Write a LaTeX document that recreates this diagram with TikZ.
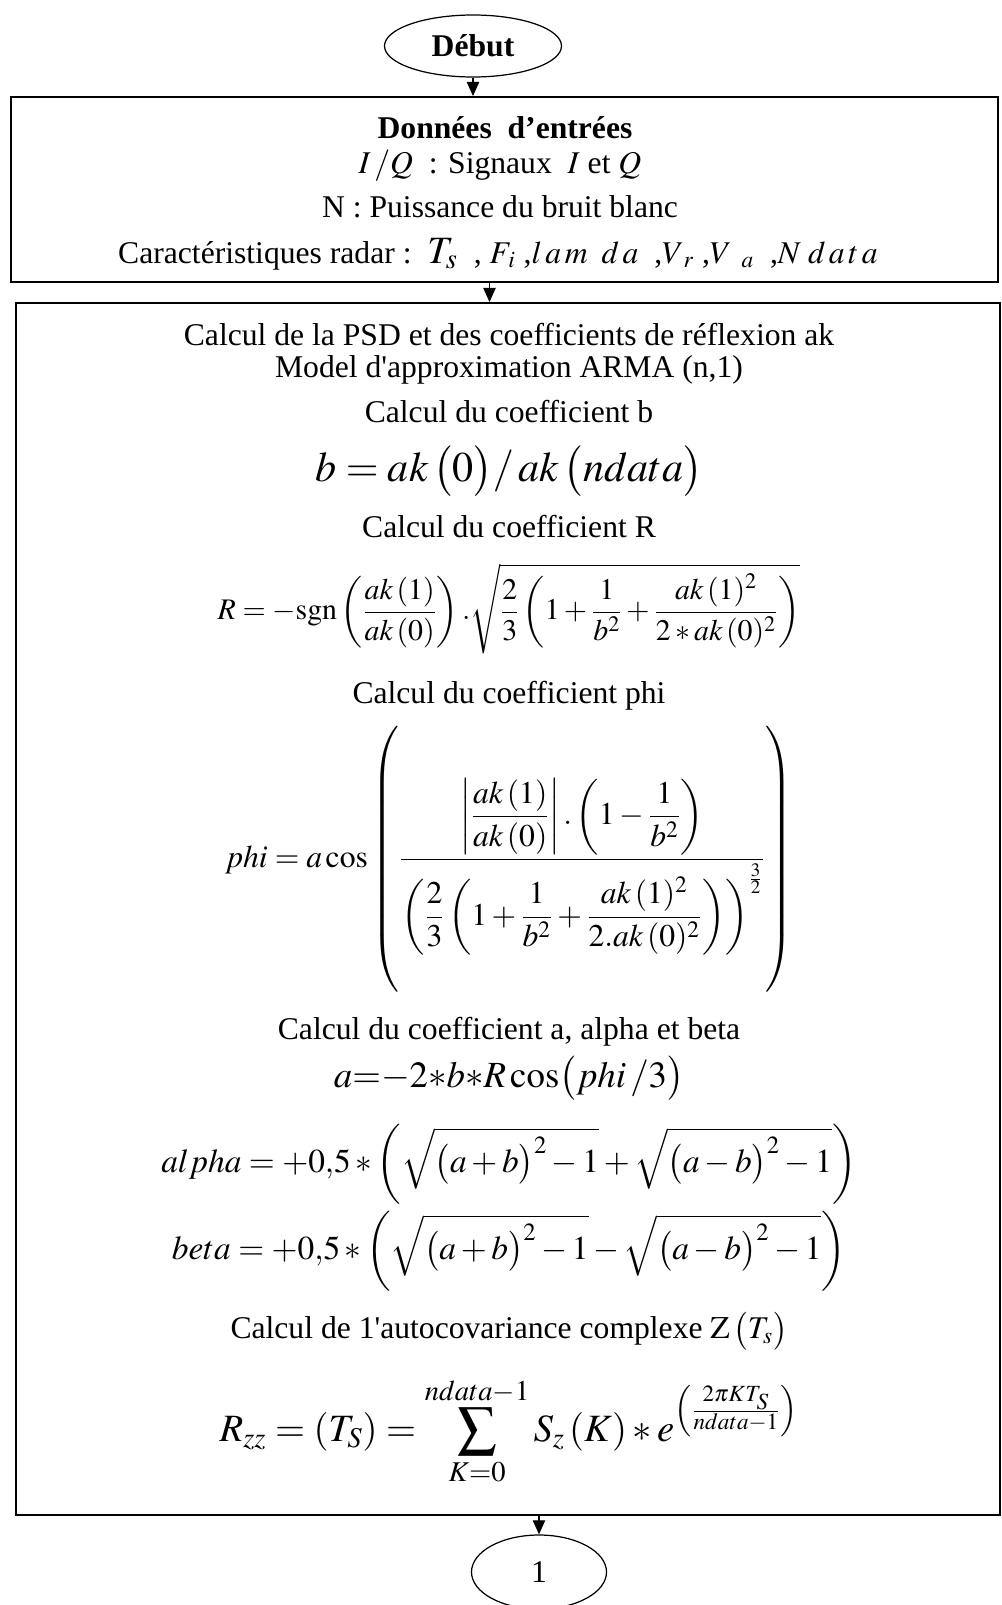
\documentclass[tikz,border=0pt]{standalone}
\usepackage{amsmath}
\usepackage{mathptmx}
\usepackage{fontspec}
\setmainfont{Liberation Serif}
\newfontfamily\plainq{Liberation Serif}
\newcommand{\sq}{{\plainq'}}
\usetikzlibrary{shapes.geometric, arrows.meta, positioning, calc}

\begin{document}
\begin{tikzpicture}[
  term/.style={draw, ellipse, line width=0.7pt, inner sep=0pt},
  proc/.style={draw, rectangle, line width=1.1pt, inner sep=0pt},
  txt/.style={font=\fontsize{18}{22}\selectfont, inner sep=0pt},
  eq/.style={inner sep=0pt},
  arr/.style={-{Triangle[width=7pt,length=8pt]}, line width=0.7pt}
]
\useasboundingbox (0,0) rectangle (20.02,-32.1);
\node[term, minimum width=3.54cm, minimum height=1.24cm, font=\fontsize{18}{22}\selectfont\bfseries] (debut) at (9.46,-0.92) {Début};
\node[proc, minimum width=19.74cm, minimum height=3.70cm] (entree) at (10.09,-3.79) {};
\node[proc, minimum width=19.68cm, minimum height=24.24cm] (calcul) at (10.16,-18.18) {};
\node[term, minimum width=2.7cm, minimum height=1.48cm, font=\fontsize{18}{22}\selectfont] (un) at (10.78,-31.44) {1};

% donnees d'entrees
\node[txt, font=\fontsize{18}{22}\selectfont\bfseries] (donnees) at (10.1,-2.56) {Données\ \ d’entrées};
\node[txt] (signaux) at (10.0,-3.32) {$I\,/Q$\ \ : Signaux\ \ $I$ et $Q$};
\node[txt] (bruit) at (10.0,-4.14) {N : Puissance du bruit blanc};
\node[txt] (radar) at (9.96,-5.08) {Caractéristiques radar :\ \ {\fontsize{22}{26}\selectfont$T_{s}$}\ \ ,\ $F_{\,i}$\ ,$l\,a\,m\;\;d\,a$\ \ ,$V_{\;r}$\ ,$V_{\;\;\;a}$\ \ ,$N\;d\,a\,t\,a$};

% calcul
\node[txt] (psd) at (10.18,-6.70) {Calcul de la PSD et des coefficients de réflexion ak};
\node[txt] (arma) at (10.18,-7.40) {Model d\sq approximation ARMA (n,1)};
\node[txt] (titb) at (10.18,-8.24) {Calcul du coefficient b};
\node[eq, font=\fontsize{24}{28}\selectfont] (eqb) at (10.18,-9.42) {$b = ak\,\bigl(0\bigr)/\,ak\,\bigl(ndata\bigr)$};
\node[txt] (titr) at (10.18,-10.54) {Calcul du coefficient R};
\node[eq, font=\fontsize{17}{21}\selectfont] (eqr) at (10.18,-12.18) {$R = -\mathrm{sgn}\left(\dfrac{ak\,(1)}{ak\,(0)}\right).\sqrt{\dfrac{2}{3}\left(1+\dfrac{1}{b^{2}}+\dfrac{ak\,(1)^{2}}{2*ak\,(0)^{2}}\right)}$};
\node[txt] (titphi) at (10.18,-13.92) {Calcul du coefficient phi};
\node[eq, font=\fontsize{18}{22}\selectfont] (eqphi) at (10.18,-17.2) {$phi = a\cos\left(\vrule height 80pt depth 72pt width 0pt\dfrac{\left|\dfrac{ak\,(1)}{ak\,(0)}\right|.\left(1-\dfrac{1}{b^{2}}\right)}{\left(\dfrac{2}{3}\left(1+\dfrac{1}{b^{2}}+\dfrac{ak\,(1)^{2}}{2.ak\,(0)^{2}}\right)\right)^{\frac{3}{2}}}\right)$};
\node[txt] (tita) at (10.18,-20.64) {Calcul du coefficient a, alpha et beta};
\node[eq, font=\fontsize{21}{25}\selectfont] (eqa) at (10.18,-21.56) {$a{=}{-}2{*}b{*}R\cos\bigl(phi\,/3\bigr)$};
\node[eq, font=\fontsize{19}{23}\selectfont] (eqalpha) at (10.18,-23.28) {$alpha = +0{,}5*\biggl(\sqrt{\bigl(a+b\bigr)^{2}-1}+\sqrt{\bigl(a-b\bigr)^{2}-1}\biggr)$};
\node[eq, font=\fontsize{19}{23}\selectfont] (eqbeta) at (10.18,-25.02) {$beta = +0{,}5*\biggl(\sqrt{\bigl(a+b\bigr)^{2}-1}-\sqrt{\bigl(a-b\bigr)^{2}-1}\biggr)$};
\node[txt] (titz) at (10.18,-26.62) {Calcul de 1\sq autocovariance complexe $\mathrm{Z}\,\bigl(T_{s}\bigr)$};
\node[eq, font=\fontsize{22}{26}\selectfont] (eqrzz) at (10.18,-28.62) {$\displaystyle R_{zz} = \left(T_{S}\right) = \sum_{K=0}^{ndata-1} S_{z}\left(K\right)*e^{\left(\frac{2\pi KT_{S}}{ndata-1}\right)}$};

\draw[arr] (debut) -- (debut |- entree.north);
\draw[arr] ([xshift=-0.3cm]entree.south) -- ([xshift=-0.3cm]entree.south |- calcul.north);
\draw[arr] (un |- calcul.south) -- (un);
\end{tikzpicture}
\end{document}
